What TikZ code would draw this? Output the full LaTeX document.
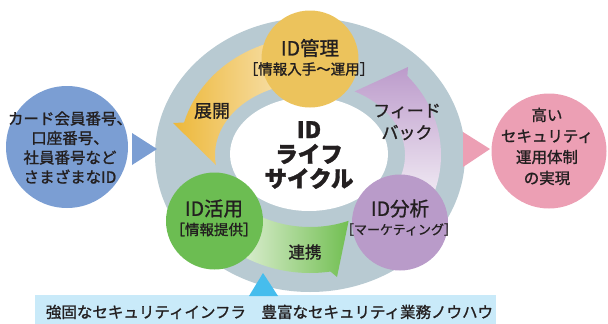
\documentclass[tikz,border=0pt]{standalone}
\usepackage{fontspec}
\setmainfont{Noto Sans CJK JP}[UprightFeatures={RawFeature={embolden=1.2}},BoldFeatures={RawFeature={embolden=1.5}}]
\definecolor{ringgray}{HTML}{B8CAD2}
\definecolor{textdark}{HTML}{231F20}
\definecolor{goldc}{HTML}{ECC35C}
\definecolor{greenc}{HTML}{6CBD52}
\definecolor{purplec}{HTML}{B99BC9}
\definecolor{bluec}{HTML}{7B9ED3}
\definecolor{pinkc}{HTML}{EC9FB4}
\definecolor{cyanc}{HTML}{46BDED}
\definecolor{bandc}{HTML}{C9EAF9}
\definecolor{goldA}{HTML}{EDB83A}
\definecolor{goldB}{HTML}{FBF1DC}
\definecolor{purA}{HTML}{BC9BCB}
\definecolor{purB}{HTML}{F4EFF6}
\definecolor{grnA}{HTML}{EAF4E2}
\definecolor{grnB}{HTML}{72BF52}
\begin{document}
\begin{tikzpicture}[x=1pt,y=-1pt,
  txt/.style={text=textdark, inner sep=0pt, align=center},
  disc/.style={circle, inner sep=0pt, draw=none}]
\useasboundingbox (0,0) rectangle (608,324);
\coordinate (C) at (310,155);
% ring
\fill[ringgray] (C) ellipse [x radius=155, y radius=137];
\fill[white] (309,154) ellipse [x radius=79, y radius=57];
% gold arrow (展開)
\shade[left color=goldA, right color=goldB]
  ([shift={(C)}]-80:131 and 118) arc[start angle=-80, end angle=-164, x radius=131, y radius=118]
  -- (173,123) -- ([shift={(C)}]-188:95 and 72)
  arc[start angle=-188, end angle=-80, x radius=95, y radius=72] -- cycle;
% purple arrow (フィードバック)
\shade[top color=purA, bottom color=purB]
  ([shift={(C)}]25:131 and 118) arc[start angle=25, end angle=-42, x radius=131, y radius=118]
  -- (408,67) -- ([shift={(C)}]-62:95 and 72)
  arc[start angle=-62, end angle=25, x radius=95, y radius=72] -- cycle;
% green arrow (連携)
\shade[left color=grnA, right color=grnB]
  ([shift={(C)}]130:131 and 118) arc[start angle=130, end angle=81, x radius=131, y radius=118]
  -- (337,277) -- ([shift={(C)}]66:95 and 72)
  arc[start angle=66, end angle=130, x radius=95, y radius=72] -- cycle;
% circles
\node[disc, fill=goldc, minimum size=97pt] (kanri) at (310,59) {};
\node[disc, fill=greenc, minimum size=97pt] (katsuyo) at (214.5,221) {};
\node[disc, fill=purplec, minimum size=96pt] (bunseki) at (400,222.5) {};
\node[disc, fill=bluec, minimum size=122pt] (left) at (67,147) {};
\node[disc, fill=pinkc, minimum size=115pt] (right) at (549,151) {};
% triangles and band
\fill[bluec] (132,133) -- (157,149) -- (132,165) -- cycle;
\fill[pinkc] (463,132) -- (490,149) -- (463,167) -- cycle;
\fill[bandc] (35,295) rectangle (496,324);
\fill[cyanc] (263,273) -- (278,296) -- (249,296) -- cycle;
% texts
\node[txt, font=\fontsize{19.5}{22}\selectfont] (t1) at (310,48) {ID管理};
\node[txt, font=\fontsize{14.5}{17}\selectfont] (t1b) at (309,69) {［情報入手〜運用］};
\node[txt, font=\fontsize{19.5}{22}\selectfont] (t2) at (214,208.5) {ID活用};
\node[txt, font=\fontsize{14.5}{17}\selectfont] (t2b) at (214,229.5) {［情報提供］};
\node[txt, font=\fontsize{19.5}{22}\selectfont] (t3) at (400,208.5) {ID分析};
\node[txt, font=\fontsize{13}{16}\selectfont] (t3b) at (399,229.5) {［マーケティング］};
\node[txt, font=\fontsize{22.5}{24.5}\selectfont\bfseries] (core) at (309,155) {ID\\ライフ\\サイクル};
\node[txt, font=\fontsize{18}{21}\selectfont] (tenkai) at (212,111) {展開};
\node[txt, font=\fontsize{17}{22}\selectfont] (fb) at (407,122) {フィード\\バック};
\node[txt, font=\fontsize{16.5}{20}\selectfont] (renkei) at (305,252) {連携};
\node[txt, font=\fontsize{15.5}{19.5}\selectfont] (tl) at (70,147.5) {カード会員番号、\\口座番号、\\社員番号など\\さまざまなID};
\node[txt, font=\fontsize{15.5}{21}\selectfont] (tr) at (547,146.5) {高い\\セキュリティ\\運用体制\\の実現};
\node[txt, font=\fontsize{15.5}{18}\selectfont] (tb) at (269.5,312) {強固なセキュリティインフラ　豊富なセキュリティ業務ノウハウ};
\end{tikzpicture}
\end{document}
